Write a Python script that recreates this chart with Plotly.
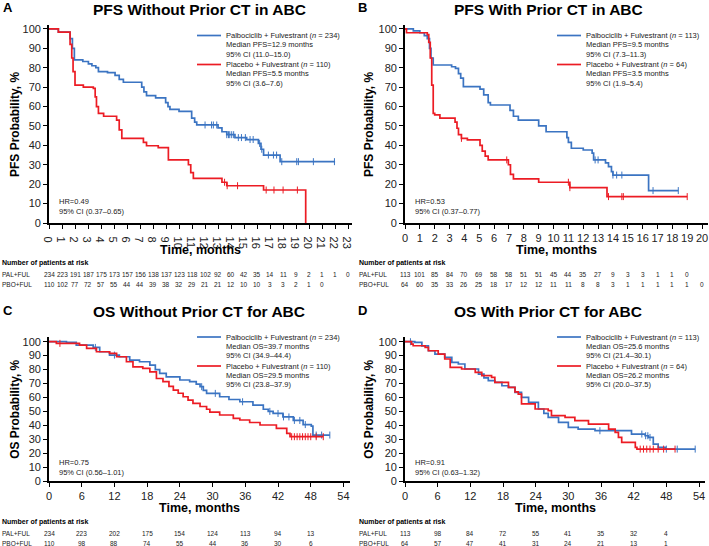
import plotly.graph_objects as go

W, H = 709, 546
BLUE = "#3b74c2"
RED = "#ec1c24"
FONT = "Arial, Liberation Sans, sans-serif"

# ---- A: PFS without prior CT (months, % surviving) ----
a_pal_t = [0, 0.72, 1.62, 1.8, 1.95, 2.6, 3.03, 3.3, 3.6, 3.8, 4.5, 5.08, 5.4, 5.72, 7.13, 7.3, 7.5, 8.2,
           8.97, 9.15, 9.3, 10.0, 10.97, 11.2, 11.36, 13.0, 13.3, 13.67, 14.3, 15.2, 16.1, 16.3, 16.5, 17.77]
a_pal_s = [100, 98.3, 95, 90, 84, 83.2, 82, 81, 80, 78, 77.5, 76, 74, 72.5, 70, 67.5, 65.6, 64.5,
           62, 60, 58.5, 57.5, 54, 52, 50.5, 49, 47, 45.5, 44, 43, 41, 38, 35, 31.6]
a_pal_end = 22.0
a_pal_cens = [12.0, 12.5, 12.64, 12.9, 13.67, 13.8, 13.9, 14.05, 14.2, 14.56, 14.8, 15.1, 15.46, 15.7,
              16.2, 16.36, 16.87, 17.26, 17.5, 17.9, 19.05, 19.18, 20.33, 21.95]
a_pbo_t = [0, 0.72, 1.62, 1.75, 1.85, 2.0, 2.64, 3.41, 3.55, 3.65, 3.8, 4.2, 5.2, 5.4, 5.6, 7.26, 7.5,
           8.4, 9.18, 10.72, 10.9, 11.1, 13.3, 13.67, 16.5, 19.74]
a_pbo_s = [100, 98.3, 92, 85, 78, 71, 70, 69.4, 65, 60, 56.5, 55, 53, 48, 43.6, 41.5, 39.8,
           38.8, 32.5, 30, 26, 23, 21, 19.2, 17, 0]
a_pbo_end = 19.74
a_pbo_cens = [13.5, 13.7, 14.5, 16.7, 17.3, 18.0, 19.1]
a_months = list(range(24))
a_pal_risk = [234, 223, 191, 187, 175, 173, 157, 156, 138, 137, 123, 118, 102, 92, 60, 42, 35, 14, 11, 9, 2, 1, 1, 0]
a_pbo_risk = [110, 102, 77, 72, 57, 55, 44, 44, 39, 38, 32, 29, 21, 21, 12, 10, 10, 3, 3, 2, 1, 0]

# ---- B: PFS with prior CT ----
b_pal_t = [0, 0.56, 1.0, 1.3, 1.5, 1.65, 1.75, 1.9, 3.14, 3.4, 3.6, 3.75, 3.93, 5.05, 5.3, 5.6, 5.75,
           7.07, 7.3, 7.63, 9.0, 9.5, 10.9, 11.0, 11.2, 12.0, 12.6, 12.7, 13.5, 13.7, 13.9, 14.0, 16.4]
b_pal_s = [100, 99, 98, 96.5, 95, 90, 85, 81.4, 80.5, 79.7, 77, 74.6, 70.3, 69, 66, 62, 60.8,
           58, 55, 53, 50, 47, 44, 41.5, 38.5, 37.6, 36, 32.5, 31, 29, 26.5, 24.7, 16.7]
b_pal_end = 18.4
b_pal_cens = [12.8, 13.0, 14.0, 14.25, 14.6, 16.7, 18.4]
b_pbo_t = [0, 0.1, 1.5, 1.6, 1.7, 1.8, 1.9, 2.0, 2.35, 3.37, 3.5, 3.6, 3.8, 4.2, 5.05, 5.2, 5.4, 5.6,
           6.96, 7.1, 7.3, 9.0, 11.1, 13.6]
b_pbo_s = [100, 98, 97, 93, 85, 71, 56.5, 55.7, 54, 52, 48.8, 45.5, 43.6, 42.8, 40, 37, 34.5, 32.5,
           30, 25, 22.7, 21, 18.2, 13.6]
b_pbo_end = 19.0
b_pbo_cens = [3.8, 6.85, 11.0, 11.1, 13.7, 14.6, 14.7, 19.0]
b_months = list(range(21))
b_pal_risk = [113, 101, 85, 84, 70, 69, 58, 58, 51, 51, 45, 44, 35, 27, 9, 3, 3, 1, 1, 0]
b_pbo_risk = [64, 60, 35, 33, 26, 25, 18, 17, 12, 12, 11, 11, 8, 8, 3, 1, 1, 1, 1, 1, 0]

# ---- C: OS without prior CT ----
c_pal_t = [0, 3.2, 5.0, 8.1, 9.3, 11.1, 12.9, 14.8, 16.6, 18.5, 19.5, 20.3, 21.5, 24.0, 25.8, 27.0, 27.7,
           28.3, 28.9, 31.3, 33.0, 35.0, 37.4, 39.3, 40.2, 41.1, 42.9, 44.8, 46.6, 48.1, 48.4]
c_pal_s = [100, 99.5, 97.6, 95.9, 92.8, 90.4, 89.2, 86.8, 85.6, 83.2, 80, 77.2, 74.8, 72.5, 71.3, 69.5, 67.7,
           65, 62.9, 60.5, 58.5, 56.9, 54.5, 51.5, 50, 48.5, 46, 43.5, 40.5, 39.4, 33.0]
c_pal_end = 51.5
c_pal_cens = [8.5, 12.0, 28.0, 30.5, 35.5, 40.5, 42.0, 43.0, 44.0, 45.0, 46.0, 47.0, 49.0, 50.0, 51.5]
c_pbo_t = [0, 1.35, 5.6, 6.9, 8.7, 11.1, 12.4, 14.2, 15.4, 17.2, 18.5, 19.7, 20.9, 22.0, 22.8, 23.7, 24.6,
           25.5, 26.4, 27.7, 28.9, 29.5, 31.3, 33.8, 35.0, 36.8, 38.7, 41.7, 43.6, 44.2]
c_pbo_s = [100, 98.8, 97.6, 95.2, 92.8, 91.6, 89.2, 85.6, 82, 80.8, 78.4, 73.6, 71.3, 68, 65.3, 63, 60.5,
           58, 55.7, 53.5, 51.5, 49.5, 47.4, 45, 43.8, 42, 40.2, 37.8, 34.2, 31.8]
c_pbo_end = 50.3
c_pbo_cens = [2.0, 44.5, 45.0, 45.5, 46.0, 46.5, 47.0, 47.5, 48.0, 49.0, 50.3]
cd_months = [0, 6, 12, 18, 24, 30, 36, 42, 48]
c_pal_risk = [234, 223, 202, 175, 154, 124, 113, 94, 13]
c_pbo_risk = [110, 98, 88, 74, 55, 44, 36, 30, 6]

# ---- D: OS with prior CT ----
d_pal_t = [0, 1.8, 3.1, 4.3, 5.5, 7.3, 8.6, 9.8, 11.0, 13.5, 14.5, 15.3, 16.5, 17.8, 19.0, 20.2, 21.4,
           22.7, 24.5, 25.5, 26.3, 28.2, 30.0, 31.8, 34.9, 41.6, 44.1, 44.7, 45.6, 46.5, 47.8]
d_pal_s = [100, 99.5, 97, 93.5, 91.1, 88.8, 85.2, 84, 80.4, 76.8, 74, 72, 70.8, 68.4, 67.2, 63.6, 60,
           56.5, 51.7, 48.5, 45.7, 42.1, 38.5, 37.3, 36.1, 33.7, 32.5, 31.3, 26.5, 24.1, 22.9]
d_pal_end = 53.3
d_pal_cens = [1.0, 35.8, 43.5, 44.2, 44.6, 45.0, 48.0, 50.0, 53.3]
d_pbo_t = [0, 1.2, 1.5, 3.7, 4.3, 6.1, 7.3, 8.3, 10.4, 12.9, 14.1, 15.9, 16.5, 19.0, 20.2, 20.8, 21.4,
           23.9, 26.3, 26.9, 29.4, 31.2, 33.7, 37.4, 38.6, 39.2, 39.8, 42.3, 42.6]
d_pbo_s = [100, 98.3, 97.1, 95.9, 93.5, 91.1, 87.6, 81.6, 80.4, 78, 75.6, 74.4, 70.8, 67.2, 64, 62.4, 55.3,
           51.7, 50.5, 46.9, 45.7, 43.3, 40.9, 37.3, 34.9, 31.3, 27.7, 24.1, 22.9]
d_pbo_end = 49.6
d_pbo_cens = [43.2, 43.8, 44.4, 45.0, 45.6, 46.5, 47.5, 49.6]
d_pal_risk = [113, 98, 84, 72, 55, 41, 35, 32, 4]
d_pbo_risk = [64, 57, 47, 41, 31, 24, 21, 13, 1]


def fx(px):
    return px / W


def fy(py):
    return 1 - py / H


def surv_at(times, surv, t):
    idx = max(i for i, x in enumerate(times) if x <= t)
    return surv[idx]


fig = go.Figure()
annotations = []
shapes = []


def text(x, y, s, size=7.5, bold=False, anchor="left", xref="paper", color="#222"):
    if bold:
        s = f"<b>{s}</b>"
    annotations.append(dict(x=x if xref != "paper" else fx(x), y=fy(y), xref=xref, yref="paper", text=s,
                            showarrow=False, xanchor=anchor, yanchor="middle",
                            font=dict(size=size, color=color, family=FONT)))


def km(times, surv, end, cens, color, ax):
    xs = list(times) + ([end] if end > times[-1] else [])
    ys = list(surv) + ([surv[-1]] if end > times[-1] else [])
    fig.add_trace(go.Scatter(x=xs, y=ys, mode="lines", line=dict(color=color, width=1.7, shape="hv"),
                             xaxis=f"x{ax}", yaxis=f"y{ax}", showlegend=False, hoverinfo="skip"))
    fig.add_trace(go.Scatter(x=cens, y=[surv_at(times, surv, c) for c in cens], mode="markers",
                             marker=dict(symbol="line-ns-open", size=5, color=color, line=dict(color=color, width=1)),
                             xaxis=f"x{ax}", yaxis=f"y{ax}", showlegend=False, hoverinfo="skip"))


panels = [
    dict(ax="", x0=49, x1=352, xr=[0, 23.3], yb=223, yt=25, yr=[0, 102], dtick=1,
         pal=(a_pal_t, a_pal_s, a_pal_end, a_pal_cens), pbo=(a_pbo_t, a_pbo_s, a_pbo_end, a_pbo_cens),
         months=a_months, pal_risk=a_pal_risk, pbo_risk=a_pbo_risk,
         title="PFS Without Prior CT in ABC", tx=199, ty=9, letter="A", lx=8,
         ylab="PFS Probability, %", ep="PFS", n1=234, n2=110,
         m1="12.9", c1="11.0–15.0", m2="5.5", c2="3.6–7.6", hr="0.49", hci="0.37–0.65",
         legx=197, legy=35.5, hry=201.7, xtitle=250, risk_y=263),
    dict(ax="2", x0=405, x1=708, xr=[0, 20.4], yb=223, yt=25, yr=[0, 102], dtick=1,
         pal=(b_pal_t, b_pal_s, b_pal_end, b_pal_cens), pbo=(b_pbo_t, b_pbo_s, b_pbo_end, b_pbo_cens),
         months=b_months, pal_risk=b_pal_risk, pbo_risk=b_pbo_risk,
         title="PFS With Prior CT in ABC", tx=548, ty=9, letter="B", lx=362,
         ylab="PFS Probability, %", ep="PFS", n1=113, n2=64,
         m1="9.5", c1="7.3–11.3", m2="3.5", c2="1.9–5.4", hr="0.53", hci="0.37–0.77",
         legx=557, legy=35.5, hry=201.7, xtitle=250, risk_y=263),
    dict(ax="3", x0=49, x1=350, xr=[0, 55.2], yb=481, yt=336.7, yr=[0, 103.6], dtick=6,
         pal=(c_pal_t, c_pal_s, c_pal_end, c_pal_cens), pbo=(c_pbo_t, c_pbo_s, c_pbo_end, c_pbo_cens),
         months=cd_months, pal_risk=c_pal_risk, pbo_risk=c_pbo_risk,
         title="OS Without Prior CT for ABC", tx=199, ty=311, letter="C", lx=8,
         ylab="OS Probability, %", ep="OS", n1=234, n2=110,
         m1="39.7", c1="34.9–44.4", m2="29.5", c2="23.8–37.9", hr="0.75", hci="0.56–1.01",
         legx=197, legy=337, hry=462.3, xtitle=508, risk_y=522),
    dict(ax="4", x0=405, x1=705, xr=[0, 55.1], yb=481, yt=336.7, yr=[0, 103.6], dtick=6,
         pal=(d_pal_t, d_pal_s, d_pal_end, d_pal_cens), pbo=(d_pbo_t, d_pbo_s, d_pbo_end, d_pbo_cens),
         months=cd_months, pal_risk=d_pal_risk, pbo_risk=d_pbo_risk,
         title="OS With Prior CT for ABC", tx=548, ty=311, letter="D", lx=362,
         ylab="OS Probability, %", ep="OS", n1=113, n2=64,
         m1="25.6", c1="21.4–30.1", m2="26.2", c2="20.0–37.5", hr="0.91", hci="0.63–1.32",
         legx=557, legy=337, hry=462.3, xtitle=508, risk_y=522),
]

layout_axes = {}
for p in panels:
    ax = p["ax"]
    km(*p["pal"], BLUE, ax)
    km(*p["pbo"], RED, ax)
    tick = dict(ticks="outside", ticklen=4, tickwidth=1.3, tickcolor="black", showgrid=False, zeroline=False,
                showline=True, linewidth=1.8, linecolor="black", automargin=False,
                tickfont=dict(size=11, color="#222", family=FONT))
    layout_axes[f"xaxis{ax}"] = dict(domain=[fx(p["x0"]), fx(p["x1"])], range=p["xr"], dtick=p["dtick"],
                                     tick0=0, anchor=f"y{ax}", **tick)
    layout_axes[f"yaxis{ax}"] = dict(domain=[fy(p["yb"]), fy(p["yt"])], range=p["yr"], dtick=10, tick0=0,
                                     anchor=f"x{ax}", **tick)

    # titles and axis labels
    text(p["tx"], p["ty"], p["title"], size=15.5, bold=True, anchor="center", color="black")
    text(p["lx"], p["ty"] - 1, p["letter"], size=13, bold=True, anchor="center", color="black")
    xmid = (p["x0"] + p["x1"]) / 2
    text(xmid, p["xtitle"], "Time, months", size=12.5, bold=True, anchor="center", color="black")
    ymid = (p["yb"] + p["yt"]) / 2 + 1
    annotations.append(dict(x=fx(p["lx"] + 7), y=fy(ymid), xref="paper", yref="paper", text=f"<b>{p['ylab']}</b>",
                            textangle=-90, showarrow=False, xanchor="center", yanchor="middle",
                            font=dict(size=12, color="black", family=FONT)))

    # legend block
    lx, ly = p["legx"], p["legy"]
    for k, (col, lab, n, med, ci) in enumerate([(BLUE, "Palbociclib + Fulvestrant", p["n1"], p["m1"], p["c1"]),
                                                (RED, "Placebo + Fulvestrant", p["n2"], p["m2"], p["c2"])]):
        y0 = ly + k * 29
        shapes.append(dict(type="line", xref="paper", yref="paper", x0=fx(lx), x1=fx(lx + 24),
                           y0=fy(y0), y1=fy(y0), line=dict(color=col, width=1.7)))
        text(lx + 27, y0, f"{lab} (<i>n</i> = {n})")
        text(lx + 27, y0 + 9.3, f"Median {p['ep']}={med} months")
        text(lx + 27, y0 + 18.6, f"95% CI ({ci})")

    # hazard ratio
    text(p["x0"] + 7.5, p["hry"], f"HR={p['hr']}")
    text(p["x0"] + 7.5, p["hry"] + 10, f"95% CI ({p['hci']})")

    # number at risk table
    left = 0 if p["x0"] < 300 else 357
    ry = p["risk_y"]
    text(left, ry, "Number of patients at risk", size=7, bold=True, color="black")
    text(left, ry + 11.5, "PAL+FUL", size=6.5)
    text(left, ry + 21.5, "PBO+FUL", size=6.5)
    for m, v in zip(p["months"], p["pal_risk"]):
        text(m, ry + 11.5, str(v), size=6.5, anchor="center", xref=f"x{ax}")
    for m, v in zip(p["months"], p["pbo_risk"]):
        text(m, ry + 21.5, str(v), size=6.5, anchor="center", xref=f"x{ax}")

fig.update_layout(width=W, height=H, margin=dict(l=0, r=0, t=0, b=0), plot_bgcolor="white",
                  paper_bgcolor="white", showlegend=False, annotations=annotations, shapes=shapes,
                  font=dict(family=FONT), **layout_axes)

# drop the browser's default body margin so the 709x546 figure fills the window exactly
fig.write_html("out.html", config={"displayModeBar": False},
               post_script="document.body.style.margin='0';")
